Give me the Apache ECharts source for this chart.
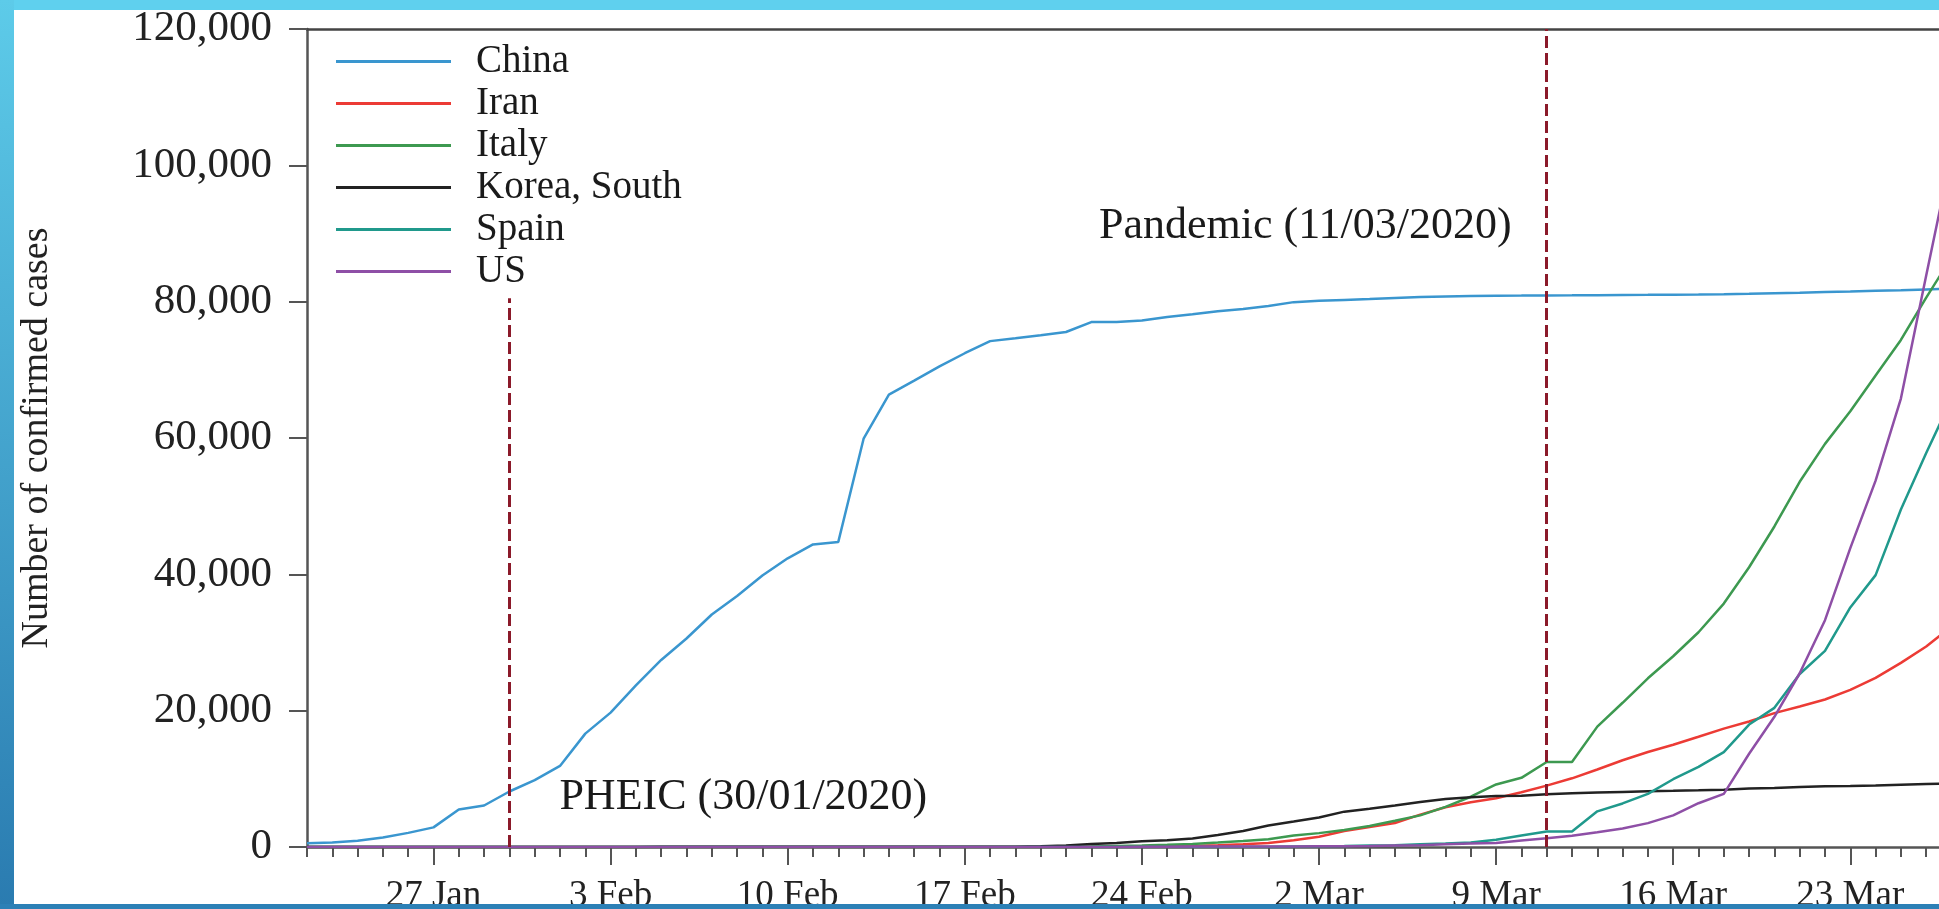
<!DOCTYPE html>
<html>
<head>
<meta charset="utf-8">
<script src="https://cdn.jsdelivr.net/npm/echarts@6/dist/echarts.min.js"></script>
<style>
html,body{margin:0;padding:0;background:#fff;}
#c{width:1939px;height:909px;}
</style>
</head>
<body>
<div id="c"></div>
<script>
// ---- data ----
const dates = [
 '22 Jan','23 Jan','24 Jan','25 Jan','26 Jan','27 Jan','28 Jan','29 Jan','30 Jan','31 Jan',
 '1 Feb','2 Feb','3 Feb','4 Feb','5 Feb','6 Feb','7 Feb','8 Feb','9 Feb','10 Feb',
 '11 Feb','12 Feb','13 Feb','14 Feb','15 Feb','16 Feb','17 Feb','18 Feb','19 Feb','20 Feb',
 '21 Feb','22 Feb','23 Feb','24 Feb','25 Feb','26 Feb','27 Feb','28 Feb','29 Feb',
 '1 Mar','2 Mar','3 Mar','4 Mar','5 Mar','6 Mar','7 Mar','8 Mar','9 Mar','10 Mar',
 '11 Mar','12 Mar','13 Mar','14 Mar','15 Mar','16 Mar','17 Mar','18 Mar','19 Mar','20 Mar',
 '21 Mar','22 Mar','23 Mar','24 Mar','25 Mar','26 Mar','27 Mar'
];
const majorTickLabels = ['27 Jan','3 Feb','10 Feb','17 Feb','24 Feb','2 Mar','9 Mar','16 Mar','23 Mar'];

const countries = ['China','Iran','Italy','Korea, South','Spain','US'];

const china = [548,643,920,1406,2075,2877,5509,6087,8141,9802,
 11891,16630,19716,23707,27440,30587,34110,36814,39829,42354,
 44386,44759,59895,66358,68413,70513,72434,74211,74619,75077,
 75550,77001,77022,77241,77754,78166,78600,78928,79356,
 79932,80136,80261,80386,80537,80690,80770,80823,80860,80887,
 80921,80932,80945,80977,81003,81033,81058,81102,81156,81250,
 81305,81435,81498,81591,81661,81782,81897];
const iran = [0,0,0,0,0,0,0,0,0,0,
 0,0,0,0,0,0,0,0,0,0,
 0,0,0,0,0,0,0,0,2,5,
 18,28,43,61,95,139,245,388,593,
 978,1501,2336,2922,3513,4747,5823,6566,7161,8042,
 9000,10075,11364,12729,13938,14991,16169,17361,18407,19644,
 20610,21638,23049,24811,27017,29406,32332];
const italy = [0,0,0,0,0,0,0,0,0,2,
 2,2,2,2,2,2,3,3,3,3,
 3,3,3,3,3,3,3,3,3,3,
 20,62,155,229,322,453,655,888,1128,
 1694,2036,2502,3089,3858,4636,5883,7375,9172,10149,
 12462,12462,17660,21157,24747,27980,31506,35713,41035,47021,
 53578,59138,63927,69176,74386,80589,86498];
const korea = [1,1,2,2,3,4,4,4,4,11,
 12,15,15,16,19,23,24,24,25,27,
 28,28,28,28,28,29,30,31,31,104,
 204,433,602,833,977,1261,1766,2337,3150,
 3736,4335,5186,5621,6088,6593,7041,7314,7478,7513,
 7755,7869,7979,8086,8162,8236,8320,8413,8565,8652,
 8799,8897,8961,9037,9137,9241,9332];
const spain = [0,0,0,0,0,0,0,0,0,0,
 1,1,1,1,1,1,1,1,2,2,
 2,2,2,2,2,2,2,2,2,2,
 2,2,2,2,6,13,15,32,45,
 84,120,165,222,259,400,500,673,1073,1695,
 2277,2277,5232,6391,7798,9942,11748,13910,17963,20410,
 25374,28768,35136,39885,49515,57786,65719];
const us = [1,1,2,2,5,5,5,5,5,6,
 8,8,11,11,11,11,11,11,11,11,
 12,12,13,13,13,13,13,13,13,13,
 15,15,15,51,51,57,58,60,68,
 74,98,118,149,217,262,402,518,583,959,
 1281,1663,2179,2727,3499,4632,6421,7783,13677,19100,
 25489,33276,43847,53740,65778,83836,101657];

const eventDates = ['30 Jan','11 Mar'];
const eventLabels = ['PHEIC (30/01/2020)','Pandemic (11/03/2020)'];
const eventLineTop = [80500, 120000];
const eventLabelY = [7200, 91100];

const yMin = 0, yMax = 120000, yStep = 20000;

// ---- styling ----
const FONT = '"Liberation Serif","Times New Roman",serif';
const colors = ['#3a96cf','#ec3b35','#3d9950','#222222','#20998c','#8e4fa6'];
const values = [china, iran, italy, korea, spain, us];
const isMajor = (i) => majorTickLabels.indexOf(dates[i]) >= 0;

const chart = echarts.init(document.getElementById('c'), null, {renderer:'canvas'});

const series = countries.map((n, k) => ({
  name: n, type: 'line', data: values[k], symbol: 'none', showSymbol: false,
  lineStyle: {width: 2.5, color: colors[k]}, itemStyle: {color: colors[k]},
  emphasis: {disabled: true}, z: 3
}));

series.push({
  name: 'events', type: 'scatter', symbolSize: 0,
  itemStyle: {color: '#ffffff'},
  emphasis: {disabled: true},
  data: eventDates.map((d, i) => ({
    value: [d, eventLabelY[i]],
    label: {show: true, formatter: eventLabels[i], position: i === 0 ? 'right' : 'left',
      distance: i === 0 ? 50 : 35, fontSize: 44, color: '#1a1a1a', opacity: 1, fontFamily: FONT}
  })),
  markLine: {
    silent: true, symbol: ['none','none'],
    label: {show: false},
    lineStyle: {color: '#8b1a2a', type: [12, 5], width: 3, opacity: 1},
    data: eventDates.map((d, i) => [{coord: [d, 0]}, {coord: [d, eventLineTop[i]]}])
  },
  z: 4
});

const option = {
  animation: false,
  backgroundColor: '#ffffff',
  textStyle: {fontFamily: FONT},
  grid: {left: 307, top: 29, width: 1644.5, height: 818, containLabel: false, outerBoundsMode: 'none'},
  legend: {
    orient: 'vertical', left: 331, top: 37, data: countries, icon: 'rect',
    itemWidth: 115, itemHeight: 3, itemGap: 3, selectedMode: false,
    textStyle: {fontSize: 39, color: '#1a1a1a', fontFamily: FONT, lineHeight: 38, padding: [0,0,0,20]}
  },
  xAxis: [
    {type: 'category', data: dates, boundaryGap: false, position: 'bottom',
     axisLine: {lineStyle: {color: '#555', width: 2.5}},
     axisTick: {interval: 0, length: 10, lineStyle: {color: '#555', width: 2}},
     axisLabel: {show: false}, splitLine: {show: false}},
    {type: 'category', data: dates, boundaryGap: false, position: 'bottom',
     axisLine: {show: false},
     axisTick: {interval: (i) => isMajor(i), length: 18, lineStyle: {color: '#555', width: 2}},
     axisLabel: {interval: (i) => isMajor(i), fontSize: 37, color: '#222', margin: 31, fontFamily: FONT},
     splitLine: {show: false}},
    {type: 'category', data: dates, boundaryGap: false, position: 'top',
     axisLine: {lineStyle: {color: '#444', width: 2.5}},
     axisTick: {show: false}, axisLabel: {show: false}, splitLine: {show: false}}
  ],
  yAxis: {
    type: 'value', min: yMin, max: yMax, interval: yStep,
    axisLine: {show: true, lineStyle: {color: '#555', width: 2.5}},
    axisTick: {show: true, length: 18, lineStyle: {color: '#555', width: 2}},
    splitLine: {show: false},
    axisLabel: {fontSize: 43, color: '#222', margin: 35, fontFamily: FONT,
      formatter: (v) => v.toLocaleString('en-US')},
    name: 'Number of confirmed cases', nameLocation: 'middle', nameRotate: 90, nameGap: 251,
    nameTextStyle: {fontSize: 38, color: '#222', fontFamily: FONT}
  },
  series: series,
  graphic: [
    {type: 'rect', z: 100, silent: true, shape: {x: 0, y: 0, width: 1939, height: 10},
     style: {fill: '#5fd0ee'}},
    {type: 'rect', z: 100, silent: true, shape: {x: 0, y: 0, width: 14, height: 909},
     style: {fill: new echarts.graphic.LinearGradient(0, 0, 0, 1, [
       {offset: 0, color: '#5dcbe9'}, {offset: 1, color: '#2a7bb0'}])}},
    {type: 'rect', z: 100, silent: true, shape: {x: 0, y: 904, width: 1939, height: 5},
     style: {fill: '#2c80b6'}}
  ]
};
chart.setOption(option);
</script>
</body>
</html>
